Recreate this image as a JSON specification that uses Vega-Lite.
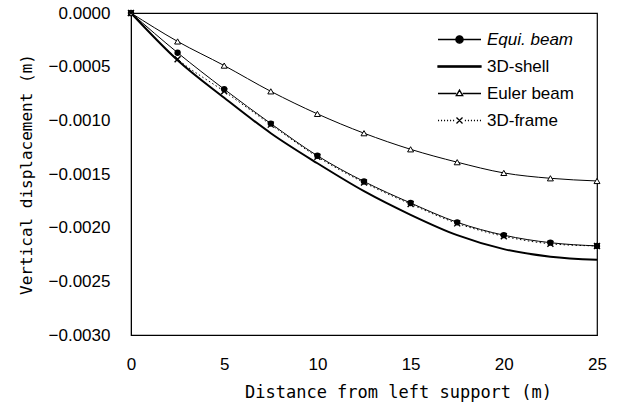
{
  "$schema": "https://vega.github.io/schema/vega-lite/v6.json",
  "width": 466,
  "height": 322,
  "autosize": "none",
  "padding": {"left": 131, "top": 13, "right": 27, "bottom": 68},
  "background": "white",
  "config": {
    "view": {"stroke": "black", "strokeWidth": 1.2},
    "axis": {
      "grid": false,
      "ticks": false,
      "domainColor": "black",
      "labelColor": "black",
      "titleColor": "black",
      "labelFont": "Liberation Sans",
      "labelFontSize": 17,
      "titleFont": "DejaVu Sans Mono",
      "titleFontSize": 16,
      "titleFontWeight": "normal"
    },
    "legend": {
      "title": null,
      "padding": 0,
      "symbolSize": 1849,
      "symbolStrokeColor": "black",
      "symbolStrokeWidth": 1.3,
      "labelOffset": 5,
      "labelFont": "Liberation Sans",
      "labelFontSize": 17,
      "labelColor": "black",
      "clipHeight": 27,
      "rowPadding": 0,
      "symbolOpacity": 1
    }
  },
  "data": {
    "values": [
      {"x": 0, "y": 0, "s": "Equi. beam"},
      {"x": 2.5, "y": -0.00037, "s": "Equi. beam"},
      {"x": 5, "y": -0.00071, "s": "Equi. beam"},
      {"x": 7.5, "y": -0.00103, "s": "Equi. beam"},
      {"x": 10, "y": -0.00133, "s": "Equi. beam"},
      {"x": 12.5, "y": -0.00157, "s": "Equi. beam"},
      {"x": 15, "y": -0.00177, "s": "Equi. beam"},
      {"x": 17.5, "y": -0.00195, "s": "Equi. beam"},
      {"x": 20, "y": -0.00207, "s": "Equi. beam"},
      {"x": 22.5, "y": -0.00214, "s": "Equi. beam"},
      {"x": 25, "y": -0.00217, "s": "Equi. beam"},
      {"x": 0, "y": 0, "s": "3D-shell"},
      {"x": 2.5, "y": -0.00044, "s": "3D-shell"},
      {"x": 5, "y": -0.00079, "s": "3D-shell"},
      {"x": 7.5, "y": -0.00112, "s": "3D-shell"},
      {"x": 10, "y": -0.00140, "s": "3D-shell"},
      {"x": 12.5, "y": -0.00166, "s": "3D-shell"},
      {"x": 15, "y": -0.00188, "s": "3D-shell"},
      {"x": 17.5, "y": -0.00207, "s": "3D-shell"},
      {"x": 20, "y": -0.00220, "s": "3D-shell"},
      {"x": 22.5, "y": -0.00227, "s": "3D-shell"},
      {"x": 25, "y": -0.00230, "s": "3D-shell"},
      {"x": 0, "y": 0, "s": "Euler beam"},
      {"x": 2.5, "y": -0.000265, "s": "Euler beam"},
      {"x": 5, "y": -0.00049, "s": "Euler beam"},
      {"x": 7.5, "y": -0.00073, "s": "Euler beam"},
      {"x": 10, "y": -0.00094, "s": "Euler beam"},
      {"x": 12.5, "y": -0.00112, "s": "Euler beam"},
      {"x": 15, "y": -0.00127, "s": "Euler beam"},
      {"x": 17.5, "y": -0.00139, "s": "Euler beam"},
      {"x": 20, "y": -0.00149, "s": "Euler beam"},
      {"x": 22.5, "y": -0.00154, "s": "Euler beam"},
      {"x": 25, "y": -0.001565, "s": "Euler beam"},
      {"x": 0, "y": 0, "s": "3D-frame"},
      {"x": 2.5, "y": -0.00043, "s": "3D-frame"},
      {"x": 5, "y": -0.00073, "s": "3D-frame"},
      {"x": 7.5, "y": -0.00104, "s": "3D-frame"},
      {"x": 10, "y": -0.00134, "s": "3D-frame"},
      {"x": 12.5, "y": -0.00158, "s": "3D-frame"},
      {"x": 15, "y": -0.00178, "s": "3D-frame"},
      {"x": 17.5, "y": -0.00196, "s": "3D-frame"},
      {"x": 20, "y": -0.00208, "s": "3D-frame"},
      {"x": 22.5, "y": -0.00215, "s": "3D-frame"},
      {"x": 25, "y": -0.00217, "s": "3D-frame"}
    ]
  },
  "encoding": {
    "x": {
      "field": "x", "type": "quantitative",
      "scale": {"domain": [0, 25], "nice": false, "zero": false},
      "axis": {"values": [0, 5, 10, 15, 20, 25], "labelFlush": false, "labelPadding": 21, "title": "Distance from left support (m)", "titleX": 267, "titlePadding": 12, "titleFontSize": 17}
    },
    "y": {
      "field": "y", "type": "quantitative",
      "scale": {"domain": [-0.003, 0], "nice": false, "zero": false},
      "axis": {"values": [0, -0.0005, -0.001, -0.0015, -0.002, -0.0025, -0.003], "format": ".4f", "labelFlush": false, "labelPadding": 21, "title": "Vertical displacement (m)", "titlePadding": 14}
    }
  },
  "layer": [
    {
      "transform": [{"filter": "datum.s == '3D-shell'"}],
      "mark": {"type": "line", "color": "black", "strokeWidth": 2, "interpolate": "monotone"}
    },
    {
      "transform": [{"filter": "datum.s == 'Equi. beam'"}],
      "mark": {"type": "line", "color": "black", "strokeWidth": 1, "interpolate": "monotone"}
    },
    {
      "transform": [{"filter": "datum.s == '3D-frame'"}],
      "mark": {"type": "line", "color": "black", "strokeWidth": 1, "strokeDash": [1.5, 2.5], "interpolate": "monotone"}
    },
    {
      "transform": [{"filter": "datum.s == 'Euler beam'"}],
      "mark": {"type": "line", "color": "black", "strokeWidth": 1, "interpolate": "monotone"}
    },
    {
      "transform": [{"filter": "datum.s == 'Equi. beam'"}],
      "mark": {"type": "point", "shape": "circle", "filled": true, "color": "black", "size": 40, "opacity": 1}
    },
    {
      "transform": [{"filter": "datum.s == 'Euler beam'"}],
      "mark": {"type": "point", "shape": "triangle-up", "filled": true, "fill": "white", "stroke": "black", "strokeWidth": 1, "size": 36, "opacity": 1}
    },
    {
      "transform": [{"filter": "datum.s == '3D-frame'"}],
      "mark": {"type": "point", "shape": "M-1,-1L1,1M-1,1L1,-1", "filled": false, "stroke": "black", "strokeWidth": 1.4, "size": 36, "opacity": 1}
    },
    {
      "transform": [{"filter": "false"}],
      "mark": {"type": "point", "filled": true, "stroke": "black", "strokeWidth": 1.3, "opacity": 1},
      "encoding": {
        "x": {"field": "x", "type": "quantitative"},
        "y": {"field": "y", "type": "quantitative"},
        "shape": {
          "field": "s", "type": "nominal",
          "scale": {
            "domain": ["Equi. beam", "3D-shell", "Euler beam", "3D-frame"],
            "range": [
              "M-1,0H1M-0.17,0A0.17,0.17,0,1,1,0.17,0A0.17,0.17,0,1,1,-0.17,0Z",
              "M-1,-0.03H1V0.03H-1Z",
              "M-1,0H-0.15M0.15,0H1M-0.15,0.1L0,-0.16L0.15,0.1Z",
              "M-1,0H-0.95M-0.86,0H-0.81M-0.72,0H-0.67M-0.58,0H-0.53M-0.44,0H-0.39M-0.3,0H-0.25M-0.14,-0.14L0.14,0.14M-0.14,0.14L0.14,-0.14M0.25,0H0.3M0.39,0H0.44M0.53,0H0.58M0.67,0H0.72M0.81,0H0.86M0.95,0H1"
            ]
          },
          "legend": {
            "orient": "none",
            "legendX": 306,
            "legendY": 13,
            "encode": {
              "labels": {"update": {"fontStyle": {"signal": "datum.label == 'Equi. beam' ? 'italic' : 'normal'"}}}
            }
          }
        },
        "fill": {
          "field": "s", "type": "nominal",
          "scale": {
            "domain": ["Equi. beam", "3D-shell", "Euler beam", "3D-frame"],
            "range": ["black", "black", "white", "white"]
          },
          "legend": {
            "orient": "none",
            "legendX": 306,
            "legendY": 13,
            "encode": {
              "labels": {"update": {"fontStyle": {"signal": "datum.label == 'Equi. beam' ? 'italic' : 'normal'"}}}
            }
          }
        }
      }
    }
  ]
}
